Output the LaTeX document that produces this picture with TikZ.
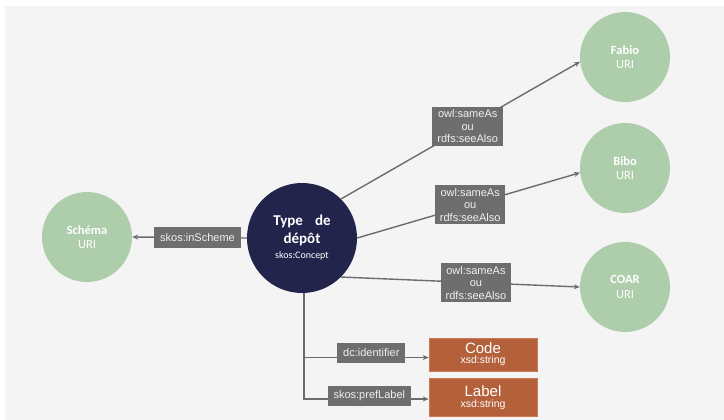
\documentclass[tikz,border=0pt]{standalone}
\usepackage{fontspec}
\setmainfont{Liberation Sans}
\newfontfamily\carlito{Carlito}
\usetikzlibrary{arrows.meta}
\definecolor{bgcol}{HTML}{F4F4F4}
\definecolor{navy}{HTML}{22244C}
\definecolor{leaf}{HTML}{AECDAA}
\definecolor{rust}{HTML}{B4603B}
\definecolor{rustedge}{HTML}{CC7A55}
\definecolor{boxgray}{HTML}{6E6E6E}
\definecolor{linegray}{HTML}{6C6C6C}
\definecolor{boxtext}{HTML}{F0F0F0}
\newcommand\bigtitle{\carlito\bfseries\fontsize{15}{18}\selectfont}
\newcommand\smalltitle{\carlito\mdseries\fontsize{10}{12}\selectfont}
\newcommand\literalname{\fontsize{15}{17}\selectfont}
\newcommand\literaltype{\fontsize{10.5}{12}\selectfont}
\tikzset{
  concept/.style={circle, fill=navy, minimum size=110pt, inner sep=0pt,
    text=white, align=center, font=\bigtitle},
  uri/.style={circle, fill=leaf, minimum size=90pt, inner sep=0pt,
    text=white, align=center, font=\carlito\fontsize{12.5}{14.5}\selectfont},
  lbl/.style={fill=boxgray, text=boxtext, align=center, inner xsep=6pt,
    inner ysep=3pt, minimum height=20pt,
    font=\fontsize{11}{12.5}\selectfont},
  literal/.style={fill=rust, draw=rustedge, line width=0.6pt, text=white,
    align=center, minimum width=108pt, inner sep=0pt},
  conn/.style={draw=linegray, line width=1.4pt,
    -{Stealth[length=6pt,width=5pt]}},
}
\begin{document}
\begin{tikzpicture}[x=1pt, y=-1pt]
  \useasboundingbox (0,0) rectangle (724,420);
  \fill[bgcol] (5,6) rectangle (724,420);

  % central concept
  \node[concept] (tdd) at (302,238)
    {Type\hspace{12pt}de\\dépôt\\[-3pt]\smalltitle skos:Concept};

  % linked URIs
  \node[uri] (fabio)  at (625,57)  {\textbf{Fabio}\\URI};
  \node[uri] (bibo)   at (625,168) {\textbf{Bibo}\\URI};
  \node[uri] (coar)   at (625,287) {\textbf{COAR}\\URI};
  \node[uri] (schema) at (87,237)  {\textbf{Schéma}\\URI};

  % literal values
  \node[literal, minimum height=33pt] (code) at (483,354.5)
    {\literalname Code\\[-2pt]\literaltype xsd:string};
  \node[literal, minimum height=38pt] (label) at (483,397.5)
    {\literalname Label\\[-1pt]\literaltype xsd:string};

  % relations
  \draw[conn] (tdd.west) -- node[lbl, pos=0.43, minimum height=21pt] {skos:inScheme} (schema.east);
  \draw[conn] (tdd.45) -- node[lbl, pos=0.53, inner xsep=5pt] {owl:sameAs\\ou\\rdfs:seeAlso} (fabio.186);
  \draw[conn] (tdd.east) -- node[lbl, pos=0.507, inner xsep=5pt] {owl:sameAs\\ou\\rdfs:seeAlso} (bibo.186);
  \draw[conn] (tdd.-45) -- node[lbl, pos=0.565, inner xsep=5pt] {owl:sameAs\\ou\\rdfs:seeAlso} (coar.west);

  \coordinate (stem) at ([xshift=2pt]tdd.south);
  \draw[conn] (stem) |- node[lbl, pos=0.77, yshift=4.5pt] {dc:identifier} ([yshift=-3pt]code.west);
  \draw[conn] (stem) |- node[lbl, pos=0.762, yshift=3.5pt] {skos:prefLabel} ([yshift=-1.5pt]label.west);
\end{tikzpicture}
\end{document}
